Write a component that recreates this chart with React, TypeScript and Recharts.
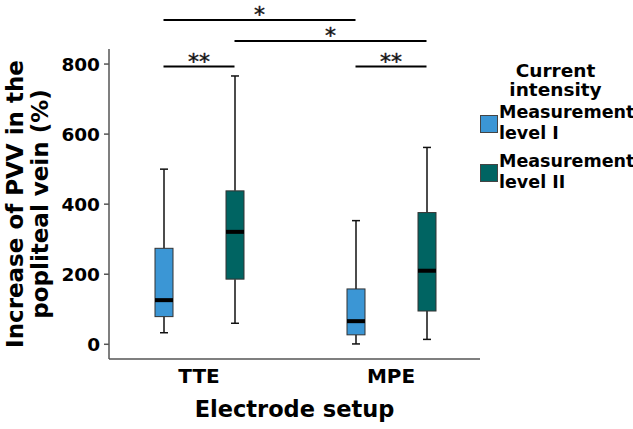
import React from 'react';
import { ComposedChart, Bar, XAxis, YAxis, ReferenceLine } from 'recharts';

// ---- data ----
const categories = ['TTE', 'MPE'];
const seriesNames = ['Measurement level I', 'Measurement level II'];
const seriesLegendLines = [
  ['Measurement', 'level I'],
  ['Measurement', 'level II'],
];
const level1Min = [33, 1];
const level1Q1 = [79, 27];
const level1Median = [126, 66];
const level1Q3 = [274, 158];
const level1Max = [500, 353];
const level2Min = [60, 14];
const level2Q1 = [186, 95];
const level2Median = [321, 210];
const level2Q3 = [438, 376];
const level2Max = [766, 562];
const yTicks = [0, 200, 400, 600, 800];

// significance brackets: [category, seriesIndex] endpoints
const bracketStartCat = ['TTE', 'TTE', 'TTE', 'MPE'];
const bracketStartSeries = [0, 1, 0, 0];
const bracketEndCat = ['MPE', 'MPE', 'TTE', 'MPE'];
const bracketEndSeries = [0, 1, 1, 1];
const bracketLevel = [926, 866, 793, 793];
const bracketLabel = ['*', '*', '**', '**'];

// ---- layout / style ----
const W = 633;
const H = 429;
const FONT = '"DejaVu Sans", Verdana, sans-serif';
const COLORS = ['#3B96D5', '#006462'];
const Y_AXIS_W = 109;
const MARGIN = { top: 49, right: 153, bottom: 0, left: 0 };
const X_AXIS_H = 70;
const PAD_L = -6;
const PAD_R = -7;
const BAR_SIZE = 18;
const BAR_GAP = 53;
const HALF_SPACING = (BAR_SIZE + BAR_GAP) / 2;

const stats = [
  { min: level1Min, q1: level1Q1, med: level1Median, q3: level1Q3, max: level1Max },
  { min: level2Min, q1: level2Q1, med: level2Median, q3: level2Q3, max: level2Max },
];

const data = categories.map((c, i) => {
  const row: any = { category: c };
  stats.forEach((s, k) => {
    row[`r${k}`] = [s.min[i], s.max[i]];
    row[`s${k}`] = { min: s.min[i], q1: s.q1[i], med: s.med[i], q3: s.q3[i], max: s.max[i] };
  });
  return row;
});

const BoxShape = (props: any) => {
  const { x, y, width, height, payload, k } = props;
  const st = payload[`s${k}`];
  const top = Math.min(y, y + height);
  const bot = Math.max(y, y + height);
  const py = (v: number) => bot - ((v - st.min) / (st.max - st.min)) * (bot - top);
  const cx = x + width / 2;
  const half = width / 2;
  const cap = 4;
  return (
    <g>
      <line x1={cx} x2={cx} y1={py(st.max)} y2={py(st.q3)} stroke="#111" strokeWidth={1.5} />
      <line x1={cx} x2={cx} y1={py(st.q1)} y2={py(st.min)} stroke="#111" strokeWidth={1.5} />
      <line x1={cx - cap} x2={cx + cap} y1={py(st.max)} y2={py(st.max)} stroke="#111" strokeWidth={1.5} />
      <line x1={cx - cap} x2={cx + cap} y1={py(st.min)} y2={py(st.min)} stroke="#111" strokeWidth={1.5} />
      <rect x={cx - half} y={py(st.q3)} width={width} height={py(st.q1) - py(st.q3)} fill={COLORS[k]} stroke="#333" strokeWidth={1} />
      <rect x={cx - half} y={py(st.med) - 2} width={width} height={4} fill="#000" />
    </g>
  );
};

const YLabel = (props: any) => {
  const vb = props.viewBox;
  const cy = vb.y + vb.height / 2;
  const x1 = vb.x + 22.5;
  const x2 = vb.x + 48;
  const style: any = { fontFamily: FONT, fontWeight: 'bold', fontSize: 23, fill: '#000' };
  return (
    <g>
      <text x={x1} y={cy} textAnchor="middle" transform={`rotate(-90, ${x1}, ${cy})`} style={style}>
        Increase of PVV in the
      </text>
      <text x={x2} y={cy} textAnchor="middle" transform={`rotate(-90, ${x2}, ${cy})`} style={style}>
        popliteal vein (%)
      </text>
    </g>
  );
};

const side = (s: number) => (s === 0 ? -1 : 1);

const makeBracket = (i: number) => (props: any) => {
  const { x1, y1, x2 } = props;
  const xa = x1 + side(bracketStartSeries[i]) * HALF_SPACING;
  const xb = x2 + side(bracketEndSeries[i]) * HALF_SPACING;
  return (
    <g>
      <line x1={xa} x2={xb} y1={y1} y2={y1} stroke="#000" strokeWidth={2} />
      <text
        x={(xa + xb) / 2}
        y={y1 + 2.5}
        textAnchor="middle"
        style={{ fontFamily: FONT, fontSize: 22, fill: '#111', stroke: '#111', strokeWidth: 0.4 }}
      >
        {bracketLabel[i]}
      </text>
    </g>
  );
};

export default function App() {
  return (
    <div style={{ position: 'absolute', left: 0, top: 0, width: W, height: H, background: '#fff' }}>
      <ComposedChart width={W} height={H} data={data} margin={MARGIN} barSize={BAR_SIZE} barGap={BAR_GAP}>
        <XAxis
          dataKey="category"
          type="category"
          height={X_AXIS_H}
          padding={{ left: PAD_L, right: PAD_R }}
          tickLine={false}
          tickSize={6}
          tickMargin={4}
          axisLine={{ stroke: '#555', strokeWidth: 1.5 }}
          tick={{ fontFamily: FONT, fontWeight: 'bold', fontSize: 20, fill: '#000' }}
          label={{
            value: 'Electrode setup',
            position: 'insideBottom',
            offset: 12,
            style: { fontFamily: FONT, fontWeight: 'bold', fontSize: 22.5, fill: '#000' },
          }}
        />
        <YAxis
          width={Y_AXIS_W}
          type="number"
          domain={[-42, 843]}
          allowDataOverflow
          ticks={yTicks}
          interval={0}
          tickSize={5}
          tickMargin={4}
          tickLine={{ stroke: '#555', strokeWidth: 1.5 }}
          axisLine={{ stroke: '#555', strokeWidth: 1.5 }}
          tick={{ fontFamily: FONT, fontWeight: 'bold', fontSize: 18.5, fill: '#000' }}
          label={(p: any) => <YLabel {...p} />}
        />
        {seriesNames.map((name, k) => (
          <Bar
            key={name}
            name={name}
            dataKey={`r${k}`}
            fill={COLORS[k]}
            isAnimationActive={false}
            shape={(p: any) => <BoxShape {...p} k={k} />}
          />
        ))}
        {bracketLevel.map((lv, i) => (
          <ReferenceLine
            key={i}
            ifOverflow="visible"
            segment={[
              { x: bracketStartCat[i], y: lv },
              { x: bracketEndCat[i], y: lv },
            ]}
            stroke="#000"
            strokeWidth={2}
            shape={makeBracket(i)}
          />
        ))}
      </ComposedChart>
      <div style={{ position: 'absolute', left: 478, top: 60.6, width: 155, fontFamily: FONT, color: '#000', fontWeight: 'bold' }}>
        <div style={{ textAlign: 'center', fontSize: 18.5, lineHeight: '19.5px' }}>
          <div>Current</div>
          <div>intensity</div>
        </div>
        {seriesLegendLines.map((lines, k) => (
          <div key={k} style={{ position: 'relative', marginTop: k === 0 ? 2 : 7, height: 42, fontSize: 17.5, lineHeight: '21px' }}>
            <div
              style={{
                position: 'absolute',
                left: 2,
                top: 13,
                width: 16,
                height: 16,
                background: COLORS[k],
                border: '1px solid #444',
              }}
            />
            <div style={{ position: 'absolute', left: 21, top: 0, whiteSpace: 'nowrap' }}>
              <div>{lines[0]}</div>
              <div>{lines[1]}</div>
            </div>
          </div>
        ))}
      </div>
    </div>
  );
}
